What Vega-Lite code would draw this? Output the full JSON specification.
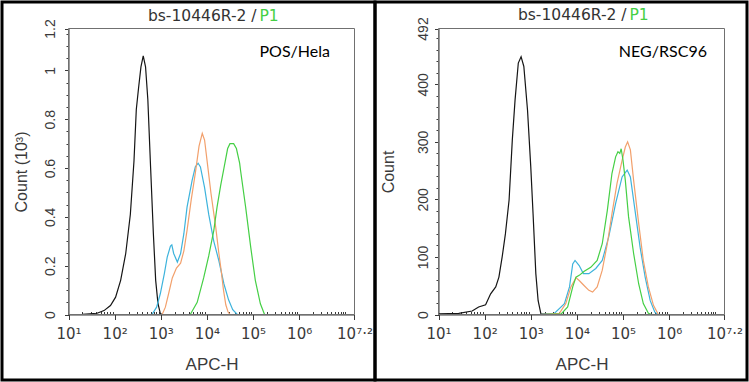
{
 "$schema": "https://vega.github.io/schema/vega-lite/v6.json",
 "padding": 0,
 "background": "white",
 "bounds": "flush",
 "spacing": 0,
 "data": {"values": [
  {"panel":"POS/Hela","series":"Control","apc":10,"count":0},
  {"panel":"POS/Hela","series":"Control","apc":20,"count":0.001},
  {"panel":"POS/Hela","series":"Control","apc":41.7,"count":0.005},
  {"panel":"POS/Hela","series":"Control","apc":58.9,"count":0.016},
  {"panel":"POS/Hela","series":"Control","apc":81.3,"count":0.037},
  {"panel":"POS/Hela","series":"Control","apc":105,"count":0.071},
  {"panel":"POS/Hela","series":"Control","apc":135,"count":0.14},
  {"panel":"POS/Hela","series":"Control","apc":174,"count":0.25},
  {"panel":"POS/Hela","series":"Control","apc":219,"count":0.41},
  {"panel":"POS/Hela","series":"Control","apc":263,"count":0.63},
  {"panel":"POS/Hela","series":"Control","apc":295,"count":0.84},
  {"panel":"POS/Hela","series":"Control","apc":331,"count":0.93},
  {"panel":"POS/Hela","series":"Control","apc":372,"count":1.015},
  {"panel":"POS/Hela","series":"Control","apc":417,"count":1.06},
  {"panel":"POS/Hela","series":"Control","apc":468,"count":1.015},
  {"panel":"POS/Hela","series":"Control","apc":525,"count":0.88},
  {"panel":"POS/Hela","series":"Control","apc":603,"count":0.6},
  {"panel":"POS/Hela","series":"Control","apc":692,"count":0.33},
  {"panel":"POS/Hela","series":"Control","apc":776,"count":0.14},
  {"panel":"POS/Hela","series":"Control","apc":871,"count":0.044},
  {"panel":"POS/Hela","series":"Control","apc":977,"count":0.005},
  {"panel":"POS/Hela","series":"Control","apc":1047,"count":0},
  {"panel":"POS/Hela","series":"Sample A","apc":646,"count":0},
  {"panel":"POS/Hela","series":"Sample A","apc":813,"count":0.03},
  {"panel":"POS/Hela","series":"Sample A","apc":977,"count":0.085},
  {"panel":"POS/Hela","series":"Sample A","apc":1202,"count":0.17},
  {"panel":"POS/Hela","series":"Sample A","apc":1380,"count":0.235},
  {"panel":"POS/Hela","series":"Sample A","apc":1622,"count":0.28},
  {"panel":"POS/Hela","series":"Sample A","apc":1738,"count":0.285},
  {"panel":"POS/Hela","series":"Sample A","apc":1905,"count":0.25},
  {"panel":"POS/Hela","series":"Sample A","apc":2291,"count":0.215},
  {"panel":"POS/Hela","series":"Sample A","apc":2692,"count":0.25},
  {"panel":"POS/Hela","series":"Sample A","apc":3162,"count":0.33},
  {"panel":"POS/Hela","series":"Sample A","apc":3715,"count":0.44},
  {"panel":"POS/Hela","series":"Sample A","apc":4786,"count":0.55},
  {"panel":"POS/Hela","series":"Sample A","apc":5623,"count":0.605},
  {"panel":"POS/Hela","series":"Sample A","apc":6457,"count":0.62},
  {"panel":"POS/Hela","series":"Sample A","apc":7244,"count":0.605},
  {"panel":"POS/Hela","series":"Sample A","apc":8913,"count":0.52},
  {"panel":"POS/Hela","series":"Sample A","apc":10960,"count":0.41},
  {"panel":"POS/Hela","series":"Sample A","apc":14130,"count":0.3},
  {"panel":"POS/Hela","series":"Sample A","apc":18200,"count":0.22},
  {"panel":"POS/Hela","series":"Sample A","apc":23440,"count":0.125},
  {"panel":"POS/Hela","series":"Sample A","apc":29510,"count":0.06},
  {"panel":"POS/Hela","series":"Sample A","apc":36310,"count":0.02},
  {"panel":"POS/Hela","series":"Sample A","apc":45710,"count":0},
  {"panel":"POS/Hela","series":"Sample B","apc":1072,"count":0},
  {"panel":"POS/Hela","series":"Sample B","apc":1259,"count":0.03},
  {"panel":"POS/Hela","series":"Sample B","apc":1479,"count":0.085},
  {"panel":"POS/Hela","series":"Sample B","apc":1778,"count":0.15},
  {"panel":"POS/Hela","series":"Sample B","apc":2188,"count":0.19},
  {"panel":"POS/Hela","series":"Sample B","apc":2692,"count":0.21},
  {"panel":"POS/Hela","series":"Sample B","apc":3162,"count":0.26},
  {"panel":"POS/Hela","series":"Sample B","apc":3715,"count":0.345},
  {"panel":"POS/Hela","series":"Sample B","apc":4571,"count":0.47},
  {"panel":"POS/Hela","series":"Sample B","apc":5623,"count":0.58},
  {"panel":"POS/Hela","series":"Sample B","apc":6761,"count":0.69},
  {"panel":"POS/Hela","series":"Sample B","apc":7943,"count":0.742},
  {"panel":"POS/Hela","series":"Sample B","apc":8913,"count":0.715},
  {"panel":"POS/Hela","series":"Sample B","apc":10470,"count":0.605},
  {"panel":"POS/Hela","series":"Sample B","apc":12300,"count":0.495},
  {"panel":"POS/Hela","series":"Sample B","apc":15490,"count":0.36},
  {"panel":"POS/Hela","series":"Sample B","apc":18200,"count":0.25},
  {"panel":"POS/Hela","series":"Sample B","apc":20420,"count":0.18},
  {"panel":"POS/Hela","series":"Sample B","apc":22910,"count":0.1},
  {"panel":"POS/Hela","series":"Sample B","apc":25700,"count":0.04},
  {"panel":"POS/Hela","series":"Sample B","apc":28840,"count":0.01},
  {"panel":"POS/Hela","series":"Sample B","apc":31620,"count":0},
  {"panel":"POS/Hela","series":"Sample C","apc":4365,"count":0},
  {"panel":"POS/Hela","series":"Sample C","apc":6166,"count":0.05},
  {"panel":"POS/Hela","series":"Sample C","apc":8511,"count":0.15},
  {"panel":"POS/Hela","series":"Sample C","apc":10960,"count":0.24},
  {"panel":"POS/Hela","series":"Sample C","apc":14130,"count":0.345},
  {"panel":"POS/Hela","series":"Sample C","apc":16600,"count":0.44},
  {"panel":"POS/Hela","series":"Sample C","apc":19950,"count":0.53},
  {"panel":"POS/Hela","series":"Sample C","apc":23440,"count":0.6},
  {"panel":"POS/Hela","series":"Sample C","apc":28180,"count":0.68},
  {"panel":"POS/Hela","series":"Sample C","apc":31620,"count":0.7},
  {"panel":"POS/Hela","series":"Sample C","apc":38020,"count":0.7},
  {"panel":"POS/Hela","series":"Sample C","apc":43650,"count":0.68},
  {"panel":"POS/Hela","series":"Sample C","apc":51290,"count":0.62},
  {"panel":"POS/Hela","series":"Sample C","apc":53700,"count":0.59},
  {"panel":"POS/Hela","series":"Sample C","apc":69180,"count":0.44},
  {"panel":"POS/Hela","series":"Sample C","apc":89130,"count":0.276},
  {"panel":"POS/Hela","series":"Sample C","apc":112200,"count":0.14},
  {"panel":"POS/Hela","series":"Sample C","apc":144500,"count":0.044},
  {"panel":"POS/Hela","series":"Sample C","apc":177800,"count":0},
  {"panel":"NEG/RSC96","series":"Control","apc":10,"count":1},
  {"panel":"NEG/RSC96","series":"Control","apc":27.5,"count":2},
  {"panel":"NEG/RSC96","series":"Control","apc":53.7,"count":6},
  {"panel":"NEG/RSC96","series":"Control","apc":74.1,"count":13},
  {"panel":"NEG/RSC96","series":"Control","apc":105,"count":17},
  {"panel":"NEG/RSC96","series":"Control","apc":135,"count":36},
  {"panel":"NEG/RSC96","series":"Control","apc":174,"count":48},
  {"panel":"NEG/RSC96","series":"Control","apc":204,"count":65},
  {"panel":"NEG/RSC96","series":"Control","apc":240,"count":100},
  {"panel":"NEG/RSC96","series":"Control","apc":282,"count":140},
  {"panel":"NEG/RSC96","series":"Control","apc":339,"count":199},
  {"panel":"NEG/RSC96","series":"Control","apc":398,"count":303},
  {"panel":"NEG/RSC96","series":"Control","apc":457,"count":373},
  {"panel":"NEG/RSC96","series":"Control","apc":537,"count":437},
  {"panel":"NEG/RSC96","series":"Control","apc":617,"count":448},
  {"panel":"NEG/RSC96","series":"Control","apc":708,"count":431},
  {"panel":"NEG/RSC96","series":"Control","apc":851,"count":355},
  {"panel":"NEG/RSC96","series":"Control","apc":1000,"count":257},
  {"panel":"NEG/RSC96","series":"Control","apc":1122,"count":175},
  {"panel":"NEG/RSC96","series":"Control","apc":1288,"count":71},
  {"panel":"NEG/RSC96","series":"Control","apc":1445,"count":24},
  {"panel":"NEG/RSC96","series":"Control","apc":1660,"count":1},
  {"panel":"NEG/RSC96","series":"Control","apc":3162,"count":0},
  {"panel":"NEG/RSC96","series":"Sample A","apc":1585,"count":0},
  {"panel":"NEG/RSC96","series":"Sample A","apc":3236,"count":2},
  {"panel":"NEG/RSC96","series":"Sample A","apc":5370,"count":19},
  {"panel":"NEG/RSC96","series":"Sample A","apc":6918,"count":48},
  {"panel":"NEG/RSC96","series":"Sample A","apc":8128,"count":88},
  {"panel":"NEG/RSC96","series":"Sample A","apc":9120,"count":94},
  {"panel":"NEG/RSC96","series":"Sample A","apc":11220,"count":85},
  {"panel":"NEG/RSC96","series":"Sample A","apc":13800,"count":71},
  {"panel":"NEG/RSC96","series":"Sample A","apc":18200,"count":71},
  {"panel":"NEG/RSC96","series":"Sample A","apc":25700,"count":80},
  {"panel":"NEG/RSC96","series":"Sample A","apc":35480,"count":94},
  {"panel":"NEG/RSC96","series":"Sample A","apc":48980,"count":135},
  {"panel":"NEG/RSC96","series":"Sample A","apc":69180,"count":193},
  {"panel":"NEG/RSC96","series":"Sample A","apc":95500,"count":239},
  {"panel":"NEG/RSC96","series":"Sample A","apc":123000,"count":251},
  {"panel":"NEG/RSC96","series":"Sample A","apc":144500,"count":239},
  {"panel":"NEG/RSC96","series":"Sample A","apc":182000,"count":181},
  {"panel":"NEG/RSC96","series":"Sample A","apc":234400,"count":117},
  {"panel":"NEG/RSC96","series":"Sample A","apc":302000,"count":65},
  {"panel":"NEG/RSC96","series":"Sample A","apc":389000,"count":24},
  {"panel":"NEG/RSC96","series":"Sample A","apc":489800,"count":4},
  {"panel":"NEG/RSC96","series":"Sample A","apc":575400,"count":0},
  {"panel":"NEG/RSC96","series":"Sample B","apc":1585,"count":0},
  {"panel":"NEG/RSC96","series":"Sample B","apc":4169,"count":2},
  {"panel":"NEG/RSC96","series":"Sample B","apc":5754,"count":19},
  {"panel":"NEG/RSC96","series":"Sample B","apc":7413,"count":48},
  {"panel":"NEG/RSC96","series":"Sample B","apc":9550,"count":64},
  {"panel":"NEG/RSC96","series":"Sample B","apc":11220,"count":59},
  {"panel":"NEG/RSC96","series":"Sample B","apc":14450,"count":50},
  {"panel":"NEG/RSC96","series":"Sample B","apc":18200,"count":42},
  {"panel":"NEG/RSC96","series":"Sample B","apc":21880,"count":39},
  {"panel":"NEG/RSC96","series":"Sample B","apc":27540,"count":48},
  {"panel":"NEG/RSC96","series":"Sample B","apc":35480,"count":77},
  {"panel":"NEG/RSC96","series":"Sample B","apc":45710,"count":123},
  {"panel":"NEG/RSC96","series":"Sample B","apc":57540,"count":175},
  {"panel":"NEG/RSC96","series":"Sample B","apc":74130,"count":228},
  {"panel":"NEG/RSC96","series":"Sample B","apc":95500,"count":268},
  {"panel":"NEG/RSC96","series":"Sample B","apc":112200,"count":291},
  {"panel":"NEG/RSC96","series":"Sample B","apc":125900,"count":300},
  {"panel":"NEG/RSC96","series":"Sample B","apc":144500,"count":286},
  {"panel":"NEG/RSC96","series":"Sample B","apc":169800,"count":233},
  {"panel":"NEG/RSC96","series":"Sample B","apc":218800,"count":158},
  {"panel":"NEG/RSC96","series":"Sample B","apc":275400,"count":94},
  {"panel":"NEG/RSC96","series":"Sample B","apc":354800,"count":48},
  {"panel":"NEG/RSC96","series":"Sample B","apc":457100,"count":16},
  {"panel":"NEG/RSC96","series":"Sample B","apc":575400,"count":1},
  {"panel":"NEG/RSC96","series":"Sample C","apc":1585,"count":0},
  {"panel":"NEG/RSC96","series":"Sample C","apc":4571,"count":1},
  {"panel":"NEG/RSC96","series":"Sample C","apc":6310,"count":13},
  {"panel":"NEG/RSC96","series":"Sample C","apc":8128,"count":48},
  {"panel":"NEG/RSC96","series":"Sample C","apc":9550,"count":65},
  {"panel":"NEG/RSC96","series":"Sample C","apc":11220,"count":68},
  {"panel":"NEG/RSC96","series":"Sample C","apc":14450,"count":75},
  {"panel":"NEG/RSC96","series":"Sample C","apc":19950,"count":82},
  {"panel":"NEG/RSC96","series":"Sample C","apc":27540,"count":94},
  {"panel":"NEG/RSC96","series":"Sample C","apc":35480,"count":123},
  {"panel":"NEG/RSC96","series":"Sample C","apc":45710,"count":181},
  {"panel":"NEG/RSC96","series":"Sample C","apc":57540,"count":245},
  {"panel":"NEG/RSC96","series":"Sample C","apc":69180,"count":274},
  {"panel":"NEG/RSC96","series":"Sample C","apc":77620,"count":283},
  {"panel":"NEG/RSC96","series":"Sample C","apc":85110,"count":280},
  {"panel":"NEG/RSC96","series":"Sample C","apc":91200,"count":288},
  {"panel":"NEG/RSC96","series":"Sample C","apc":100000,"count":268},
  {"panel":"NEG/RSC96","series":"Sample C","apc":112200,"count":233},
  {"panel":"NEG/RSC96","series":"Sample C","apc":131800,"count":170},
  {"panel":"NEG/RSC96","series":"Sample C","apc":169800,"count":106},
  {"panel":"NEG/RSC96","series":"Sample C","apc":218800,"count":53},
  {"panel":"NEG/RSC96","series":"Sample C","apc":275400,"count":19},
  {"panel":"NEG/RSC96","series":"Sample C","apc":354800,"count":2},
  {"panel":"NEG/RSC96","series":"Sample C","apc":416900,"count":0}
 ]},
 "hconcat": [
  {
   "width": 373,
   "height": 378,
   "layer": [
    {
     "transform": [{"filter": "datum.panel === 'POS/Hela'"}],
     "mark": {"type": "line", "strokeWidth": 1.2},
     "encoding": {
      "x": {"field": "apc", "type": "quantitative",
            "scale": {"type": "log", "domain": [10, 15848932], "range": [66.5, 352.5], "nice": false},
            "axis": {"title": "APC-H", "orient": "bottom", "offset": -65.5, "grid": false,
                     "values": [10,100,1000,10000,100000,1000000,15848931],
                     "labelExpr": "datum.value > 1.5e7 ? '10⁷·²' : '10' + ['⁰','¹','²','³','⁴','⁵','⁶'][round(log(datum.value)/LN10)]",
                     "tickSize": 5, "labelFlush": false, "labelOverlap": false, "labelFont": "DejaVu Sans", "labelFontSize": 15, "labelPadding": 7, "labelDx": 2,
                     "titleFontSize": 17, "titlePadding": 15}},
      "y": {"field": "count", "type": "quantitative",
            "scale": {"domain": [0, 1.172], "range": [312.5, 26.5], "nice": false},
            "axis": {"title": "Count (10³)", "orient": "left", "offset": -66.5, "grid": false,
                     "values": [0,0.2,0.4,0.6,0.8,1,1.172],
                     "labelExpr": "datum.value > 1.16 ? '1.2' : '' + datum.value",
                     "tickSize": 4, "labelAngle": -90, "labelAlign": "center", "labelBaseline": "middle", "labelPadding": 14,
                     "labelOverlap": false, "labelFlush": false, "labelFontSize": 14,
                     "titleFontSize": 16, "titlePadding": 14}},
      "color": {"field": "series", "type": "nominal",
                "scale": {"domain": ["Control", "Sample A", "Sample B", "Sample C"], "range": ["#151515", "#3db3dc", "#f2a06c", "#45cf45"]},
                "legend": null}
     }
    },
    {
     "data": {"values": [{}]},
     "mark": {"type": "rect", "fill": "transparent", "stroke": "#707070", "strokeWidth": 1},
     "encoding": {
      "x": {"datum": 10, "axis": {"orient": "bottom", "offset": -65.5, "title": null, "labels": false, "domain": false, "grid": false, "tickSize": -3,
            "values": [20,30,40,50,60,70,80,90,200,300,400,500,600,700,800,900,2000,3000,4000,5000,6000,7000,8000,9000,20000,30000,40000,50000,60000,70000,80000,90000,200000,300000,400000,500000,600000,700000,800000,900000,2000000,3000000,4000000,5000000,6000000,7000000,8000000,9000000,10000000]}},
      "x2": {"datum": 15848931},
      "y": {"datum": 0, "axis": {"orient": "left", "offset": -66.5, "title": null, "labels": false, "domain": false, "grid": false, "tickSize": 2.5,
            "values": [0.05,0.1,0.15,0.25,0.3,0.35,0.45,0.5,0.55,0.65,0.7,0.75,0.85,0.9,0.95,1.05,1.1,1.15]}},
      "y2": {"datum": 1.172}
     }
    },
    {
     "data": {"values": [{}]},
     "mark": {"type": "text", "text": "bs-10446R-2 /", "align": "right", "baseline": "middle", "font": "DejaVu Sans", "fontSize": 15.5, "color": "#333333"},
     "encoding": {"x": {"datum": 118900, "axis": null}, "y": {"datum": 1.225, "axis": null}}
    },
    {
     "data": {"values": [{}]},
     "mark": {"type": "text", "text": "P1", "align": "left", "baseline": "middle", "dx": 3, "font": "DejaVu Sans", "fontSize": 15.5, "color": "#45cf45"},
     "encoding": {"x": {"datum": 118900, "axis": null}, "y": {"datum": 1.225, "axis": null}}
    },
    {
     "data": {"values": [{}]},
     "mark": {"type": "text", "text": "POS/Hela", "align": "left", "baseline": "middle", "font": "Lato", "fontSize": 16, "color": "#000000"},
     "encoding": {"x": {"datum": 138000, "axis": null}, "y": {"datum": 1.074, "axis": null}}
    }
   ],
   "resolve": {"axis": {"x": "independent", "y": "independent"}}
  },
  {
   "width": 372,
   "height": 378,
   "layer": [
    {
     "transform": [{"filter": "datum.panel === 'NEG/RSC96'"}],
     "mark": {"type": "line", "strokeWidth": 1.2},
     "encoding": {
      "x": {"field": "apc", "type": "quantitative",
            "scale": {"type": "log", "domain": [10, 15848932], "range": [63.5, 349.5], "nice": false},
            "axis": {"title": "APC-H", "orient": "bottom", "offset": -65.5, "grid": false,
                     "values": [10,100,1000,10000,100000,1000000,15848931],
                     "labelExpr": "datum.value > 1.5e7 ? '10⁷·²' : '10' + ['⁰','¹','²','³','⁴','⁵','⁶'][round(log(datum.value)/LN10)]",
                     "tickSize": 5, "labelFlush": false, "labelOverlap": false, "labelFont": "DejaVu Sans", "labelFontSize": 15, "labelPadding": 7, "labelDx": 2,
                     "titleFontSize": 17, "titlePadding": 15}},
      "y": {"field": "count", "type": "quantitative",
            "scale": {"domain": [0, 497], "range": [312.5, 26.5], "nice": false},
            "axis": {"title": "Count", "orient": "left", "offset": -63.5, "grid": false,
                     "values": [0,100,200,300,400,497],
                     "labelExpr": "datum.value > 490 ? '492' : '' + datum.value",
                     "tickSize": 4, "labelAngle": -90, "labelAlign": "center", "labelBaseline": "middle", "labelPadding": 11,
                     "labelOverlap": false, "labelFlush": false, "labelFontSize": 14,
                     "titleFontSize": 16, "titlePadding": 20}},
      "color": {"field": "series", "type": "nominal",
                "scale": {"domain": ["Control", "Sample A", "Sample B", "Sample C"], "range": ["#151515", "#3db3dc", "#f2a06c", "#45cf45"]},
                "legend": null}
     }
    },
    {
     "data": {"values": [{}]},
     "mark": {"type": "rect", "fill": "transparent", "stroke": "#707070", "strokeWidth": 1},
     "encoding": {
      "x": {"datum": 10, "axis": {"orient": "bottom", "offset": -65.5, "title": null, "labels": false, "domain": false, "grid": false, "tickSize": -3,
            "values": [20,30,40,50,60,70,80,90,200,300,400,500,600,700,800,900,2000,3000,4000,5000,6000,7000,8000,9000,20000,30000,40000,50000,60000,70000,80000,90000,200000,300000,400000,500000,600000,700000,800000,900000,2000000,3000000,4000000,5000000,6000000,7000000,8000000,9000000,10000000]}},
      "x2": {"datum": 15848931},
      "y": {"datum": 0, "axis": {"orient": "left", "offset": -63.5, "title": null, "labels": false, "domain": false, "grid": false, "tickSize": 2.5,
            "values": [20,40,60,80,120,140,160,180,220,240,260,280,320,340,360,380,420,440,460,480]}},
      "y2": {"datum": 497}
     }
    },
    {
     "data": {"values": [{}]},
     "mark": {"type": "text", "text": "bs-10446R-2 /", "align": "right", "baseline": "middle", "font": "DejaVu Sans", "fontSize": 15.5, "color": "#333333"},
     "encoding": {"x": {"datum": 118900, "axis": null}, "y": {"datum": 520, "axis": null}}
    },
    {
     "data": {"values": [{}]},
     "mark": {"type": "text", "text": "P1", "align": "left", "baseline": "middle", "dx": 3, "font": "DejaVu Sans", "fontSize": 15.5, "color": "#45cf45"},
     "encoding": {"x": {"datum": 118900, "axis": null}, "y": {"datum": 520, "axis": null}}
    },
    {
     "data": {"values": [{}]},
     "mark": {"type": "text", "text": "NEG/RSC96", "align": "left", "baseline": "middle", "font": "Lato", "fontSize": 16, "color": "#000000"},
     "encoding": {"x": {"datum": 81280, "axis": null}, "y": {"datum": 456, "axis": null}}
    }
   ],
   "resolve": {"axis": {"x": "independent", "y": "independent"}}
  }
 ],
 "resolve": {"scale": {"x": "independent", "y": "independent", "color": "shared"}},
 "config": {
  "view": {"stroke": "#000000", "strokeWidth": 3},
  "axis": {"labelFont": "Liberation Sans", "titleFont": "Liberation Sans", "titleFontWeight": "normal", "labelOverlap": false,
           "labelColor": "#3a3a3a", "titleColor": "#3a3a3a", "domainColor": "#3a3a3a", "tickColor": "#3a3a3a", "domainWidth": 1, "tickWidth": 1}
 }
}
